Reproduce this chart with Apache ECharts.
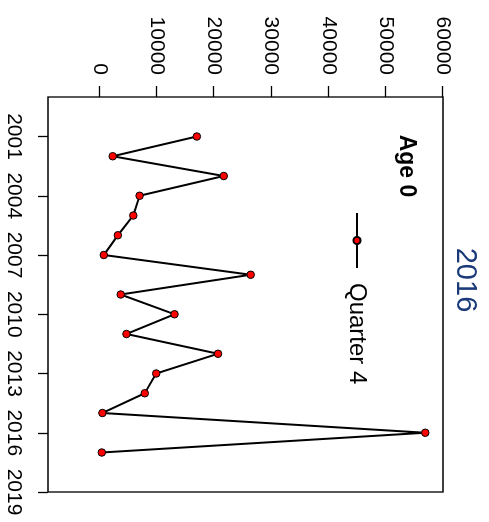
<!DOCTYPE html>
<html>
<head>
<meta charset="utf-8">
<script src="https://cdn.jsdelivr.net/npm/echarts@6/dist/echarts.min.js"></script>
<style>
  html, body { margin: 0; padding: 0; background: #fff; overflow: hidden; }
  /* The plot is laid out landscape and turned a quarter turn clockwise */
  #chart {
    position: absolute; left: 0; top: 0;
    width: 522px; height: 489px;
    transform-origin: 0 0;
    transform: translate(489px, 0) rotate(90deg);
  }
</style>
</head>
<body>
<div id="chart"></div>
<script>
// Age 0 abundance index, quarter 4 survey
const years = [2001, 2002, 2003, 2004, 2005, 2006, 2007, 2008, 2009, 2010,
               2011, 2012, 2013, 2014, 2015, 2016, 2017];
const quarter4 = [17000, 2300, 21700, 7000, 5900, 3200, 750, 26400, 3700, 13100,
                  4700, 20700, 9900, 7900, 500, 56900, 400];
const yearTicks = [2001, 2004, 2007, 2010, 2013, 2016, 2019];
const valueTicks = [0, 10000, 20000, 30000, 40000, 50000, 60000];

const FONT = '"Liberation Sans", Arial, Helvetica, sans-serif';
const chart = echarts.init(document.getElementById('chart'), null, { renderer: 'canvas' });

const plain = v => String(v);

chart.setOption({
  animation: false,
  backgroundColor: '#ffffff',
  textStyle: { fontFamily: FONT },
  grid: {
    left: 97, right: 30, top: 46, bottom: 48,
    show: true, borderColor: '#000', borderWidth: 1.3, backgroundColor: 'transparent'
  },
  xAxis: {
    type: 'value', min: 1999, max: 2019, position: 'bottom',
    axisLine: { show: false, onZero: false },
    splitLine: { show: false },
    axisTick: { show: true, customValues: yearTicks, length: 10, lineStyle: { color: '#000', width: 1.3 } },
    axisLabel: { customValues: yearTicks, formatter: plain, margin: 24, color: '#000', fontSize: 21, fontFamily: FONT }
  },
  yAxis: {
    type: 'value', min: -9000, max: 60000, position: 'left',
    axisLine: { show: false, onZero: false },
    splitLine: { show: false },
    axisTick: { show: true, customValues: valueTicks, length: 11, lineStyle: { color: '#000', width: 1.3 } },
    axisLabel: { customValues: valueTicks, formatter: plain, margin: 22, color: '#000', fontSize: 21, fontFamily: FONT }
  },
  legend: {
    data: ['Quarter 4'],
    left: 212, top: 120, padding: 0,
    itemWidth: 55, itemHeight: 9, itemGap: 0,
    textStyle: { fontSize: 24, color: '#000', fontFamily: FONT, padding: [0, 0, 0, 10] }
  },
  graphic: [
    {
      type: 'text', x: 280, y: 24,
      style: { text: '2016', fontSize: 29, fill: '#1b3a7a', fontFamily: FONT,
               align: 'center', verticalAlign: 'middle' }
    },
    {
      type: 'text', x: 166, y: 83,
      style: { text: 'Age 0', fontSize: 23, fontWeight: 'bold', fill: '#000', fontFamily: FONT,
               align: 'center', verticalAlign: 'middle' }
    }
  ],
  series: [{
    name: 'Quarter 4',
    type: 'line',
    data: years.map((y, i) => [y, quarter4[i]]),
    symbol: 'circle', symbolSize: 7.5,
    lineStyle: { color: '#000', width: 2 },
    itemStyle: { color: '#ff0000', borderColor: '#000', borderWidth: 1 }
  }]
});
</script>
</body>
</html>
